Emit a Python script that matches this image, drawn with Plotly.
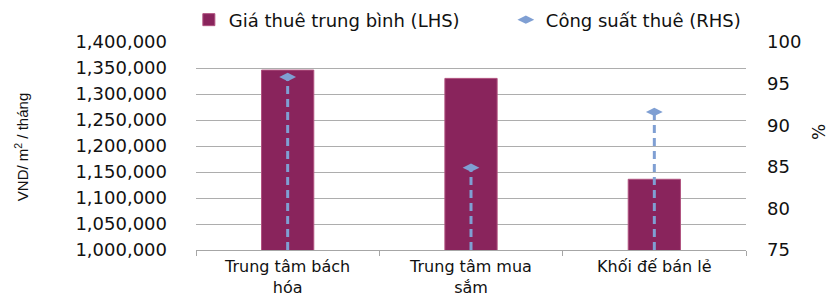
import plotly.graph_objects as go

categories = ["Trung tâm bách<br>hóa", "Trung tâm mua<br>sắm", "Khối đế bán lẻ"]
rent_vnd = [1346000, 1330000, 1136000]
occupancy_pct = [95.8, 84.9, 91.6]
lhs_ticks = [1000000, 1050000, 1100000, 1150000, 1200000, 1250000, 1300000, 1350000, 1400000]
rhs_ticks = [75, 80, 85, 90, 95, 100]

bar_color = "#89245C"
dot_color = "#7F9FD3"
font_main = "DejaVu Sans"
text_color = "#111111"

rhs_floor = rhs_ticks[0]
drop_x, drop_y = [], []
for c, v in zip(categories, occupancy_pct):
    drop_x += [c, c, None]
    drop_y += [rhs_floor, v, None]

fig = go.Figure()
fig.add_trace(go.Bar(
    x=categories, y=rent_vnd, name="Giá thuê trung bình (LHS)",
    marker=dict(color=bar_color, line=dict(color="#B0527F", width=1)),
    yaxis="y",
))
fig.add_trace(go.Scatter(
    x=drop_x, y=drop_y, mode="lines", showlegend=False,
    line=dict(color=dot_color, width=3, dash="8px,5px"),
    yaxis="y2", hoverinfo="skip",
))
fig.add_trace(go.Scatter(
    x=categories, y=occupancy_pct, mode="markers", name="Công suất thuê (RHS)",
    marker=dict(symbol="diamond-wide", size=12, color=dot_color),
    yaxis="y2",
))

# page body has an 8px margin, so the figure is offset by 8px in the window
fig.update_layout(
    width=820, height=288,
    margin=dict(l=188, r=82, t=34, b=46, autoexpand=False),
    plot_bgcolor="white", paper_bgcolor="white",
    font=dict(family=font_main, size=18, color=text_color),
    bargap=0.715,
    showlegend=True,
    legend=dict(
        orientation="h", x=-0.013, xanchor="left", y=1.106, yanchor="middle",
        font=dict(family=font_main, size=18, color=text_color),
        bgcolor="rgba(0,0,0,0)", entrywidth=272, entrywidthmode="pixels",
    ),
    xaxis=dict(
        type="category", tickson="boundaries", ticks="outside", ticklen=5,
        tickcolor="#A6A6A6", showline=True, linecolor="#A6A6A6", linewidth=1,
        showgrid=False, tickfont=dict(family=font_main, size=16),
        ticklabelstandoff=2,
    ),
    yaxis=dict(
        range=[lhs_ticks[0], lhs_ticks[-1]], tickvals=lhs_ticks, tickformat=",d",
        showgrid=True, gridcolor="#ADADAD", gridwidth=1, zeroline=False,
        showline=False, ticks="", ticklabelstandoff=28,
        tickfont=dict(family=font_main, size=18),
    ),
    yaxis2=dict(
        range=[rhs_ticks[0], rhs_ticks[-1]], tickvals=rhs_ticks, overlaying="y",
        side="right", showgrid=False, zeroline=False, showline=False, ticks="",
        ticklabelstandoff=20, tickfont=dict(family=font_main, size=18),
    ),
    annotations=[
        dict(text="VND/ m<sup>2</sup> / tháng", xref="paper", yref="paper",
             x=-0.318, y=0.495, xanchor="center", yanchor="middle",
             textangle=-90, showarrow=False,
             font=dict(family="Liberation Sans", size=15, color=text_color)),
        dict(text="%", xref="paper", yref="paper", x=1.1327, y=0.567,
             xanchor="center", yanchor="middle",
             textangle=-90, showarrow=False,
             font=dict(family=font_main, size=17, color=text_color)),
    ],
)

fig.write_html("out.html")
